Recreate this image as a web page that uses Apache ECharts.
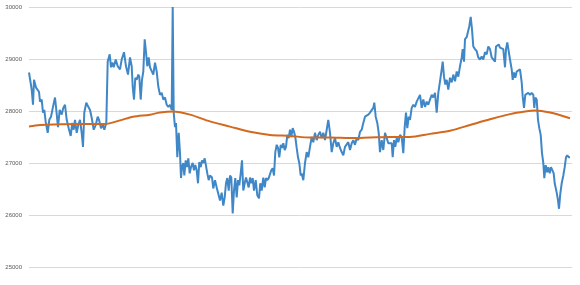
<!DOCTYPE html>
<html><head><meta charset="utf-8">
<script src="https://cdn.jsdelivr.net/npm/echarts@6/dist/echarts.min.js"></script>
<style>html,body{margin:0;padding:0;background:#fff}#c{width:580px;height:285px}</style>
</head><body><div id="c"></div>
<script>
// day index (trading-day position) and price values of the noisy series
const priceDays = [0,2.7,4,5,7,8.7,10,11,12.7,14,15.3,16.7,18.7,20.3,22,24,26,27.3,29,30.7,32.7,34.3,36,37.7,39.7,41.7,43.3,44.7,46,47.7,49.3,51,52.7,54,55.3,57.3,59.3,61,62.7,64.7,66.7,68.7,70,72,74,75.3,77.3,78.7,80.7,82,83.3,84.7,86.7,88.7,91,92.7,95,97,99,101,102.7,103.7,105,106.3,107.7,109.3,110.3,111.7,113,114.3,115.7,117,118.3,119.7,121,122.7,124.3,126,127.7,129.3,131,132.7,134.3,136,137.7,139.3,141,142.7,143.7,144.7,146,147,148.3,149.7,151,152,153,154.3,155.3,156.7,158,159.3,160.7,162,163.7,165,166.3,167.7,169,170.3,171.7,173,174.3,175.7,177,178.3,179.7,181,183,184.3,186,187.7,189.3,191,192.7,194.3,195.7,197,198.3,199.7,201,202.3,203.7,205,206.3,207.7,209,210.3,211.7,213,214.3,215.7,217,218.3,219.7,221,222.3,223.7,225,226.7,228.3,230,231.3,232.7,234.3,235.7,237,238.3,239.7,241,242.3,243.7,245,246.3,247.7,249,250.3,251.7,253,254.3,255.7,257,258.3,259.7,261,262.3,263.7,265,266.3,267.7,269,270.3,271.7,272.7,274.3,276,277.7,279.3,281,282.7,284.3,286,287.7,289.3,291,292.7,294.3,296,297.7,299.3,301,302.7,304.3,306,307.7,309.3,311,312.7,314.3,316,317.7,319.3,321,322.7,324.3,326,327.7,329.3,331,332.7,334.3,336,337.7,339.3,341,342.7,344.3,345.3,346.7,348.3,349.7,351,352.7,354.3,356,357.7,359.3,361,362.7,363.7,365,366.3,367.7,369.3,371,372.7,374.3,375.7,377,378.3,379.7,381,382.7,384.3,386,387.7,389.3,391,392.7,394.3,396,397.7,399.3,401,402.7,404.3,406,407.7,409.3,411,412.7,413.7,415,416.3,417.7,419.3,421,422.7,424.3,426,427.7,429.3,431,432.7,433.7,435,436,437.7,439.3,440.3,441.7,443,444.3,446,447.7,449.3,451,452.7,454.3,456,457.7,459.3,461,462.7,464.3,466,467,468.3,469.7,471,472.7,474.3,476,477,478.3,479.7,481,482.7,483.7,485,486.3,487.7,489.3,491,492.7,493.7,495,496.3,497.7,499.3,501,502.7,504.3,505.3,506.3,507.7,509,510.3,511.7,513,514.3,515.3,516.7,518,519.3,520.7,522,523.3,524.7,525.7,526.7,527.7,529,530,531.3,532.7,534.3,535.7,537,538.3,539.7,541];
const priceValues = [28740,28410,28120,28600,28450,28470,28370,28180,28220,27970,28020,27790,27580,27830,27890,28080,28260,28020,27690,28020,27930,28060,28120,27830,27670,27520,27770,27640,27830,27580,27730,27830,27580,27310,27970,28160,28080,28020,27870,27640,27730,27890,27830,27670,27730,27640,27770,28950,29090,28840,28930,28840,28990,28860,28800,28990,29130,28860,28700,29030,28860,28470,28220,28640,28600,28700,28660,28220,28600,28760,29380,29130,28860,29030,28840,28860,28700,28930,28760,28470,28310,28350,28220,28260,28120,28080,28120,28020,30000,27970,27690,27770,27110,27580,27190,26710,26920,27000,26760,27050,26920,27090,26800,26920,27000,26860,26960,26860,26610,27020,26920,27050,27000,27090,27090,26800,26670,26760,26720,26510,26670,26530,26410,26280,26430,26180,26340,26610,26710,26470,26760,26720,26030,26470,26710,26340,26670,26570,26800,27050,26470,26610,26720,26630,26530,26720,26610,26710,26470,26670,26380,26320,26610,26470,26720,26530,26710,26670,26710,26710,26860,26900,26760,27210,27350,27290,27110,27350,27290,27380,27250,27310,27540,27480,27640,27500,27670,27600,27500,27290,27110,27000,26760,26800,26670,27000,27210,27110,27310,27500,27400,27580,27440,27540,27600,27480,27580,27440,27640,27830,27580,27210,27380,27480,27310,27400,27290,27210,27150,27310,27290,27400,27250,27380,27440,27350,27480,27440,27600,27640,27770,27890,27870,27930,27970,27990,28060,28160,27890,27770,27580,27210,27440,27250,27580,27480,27380,27380,27380,27110,27440,27310,27480,27400,27540,27500,27190,27690,27970,27670,27890,27830,28060,28120,28080,28180,28160,28310,28060,28220,28080,28180,28120,28220,28310,28260,28350,27970,28350,28570,28800,28950,28660,28510,28600,28410,28640,28550,28700,28570,28760,28660,28860,29030,29190,28950,29380,29420,29440,29630,29810,29570,29240,29190,29150,29030,28990,29050,28990,29130,29090,29240,29190,29030,29050,28950,29240,29220,29280,29220,29240,29190,28840,29190,29320,29320,28990,28800,28600,28740,28640,28760,28740,28800,28550,28280,28060,28310,28280,28350,28310,28350,28310,28060,28260,28220,27830,27670,27540,27190,27000,26710,26960,26820,26920,26800,26920,26900,26800,26610,26630,26430,26280,26120,26410,26610,26760,26920,27110,27150,27110,27110];
// smooth trend series
const trendDays = [0,11,51,76,91,104,121,131,144,161,181,201,221,241,261,281,301,321,341,361,381,401,421,441,461,481,496,506,521,541];
const trendValues = [27700,27730,27750,27750,27820,27890,27930,27970,27990,27930,27800,27700,27600,27540,27520,27490,27490,27480,27490,27500,27500,27560,27620,27730,27840,27940,27990,28010,27970,27860];
const yTicks = [25000,26000,27000,28000,29000,30000];

const chart = echarts.init(document.getElementById('c'), null, {renderer:'canvas'});
chart.setOption({
  animation:false,
  grid:{left:29,right:8,top:7,bottom:18,containLabel:false},
  xAxis:{type:'value',min:0,max:543,show:true,axisLine:{show:false},axisTick:{show:false},axisLabel:{show:false},splitLine:{show:false}},
  yAxis:{type:'value',min:yTicks[0],max:yTicks[yTicks.length-1],interval:1000,
    axisLine:{show:false},axisTick:{show:false},
    axisLabel:{fontSize:6,color:'#595959',margin:7,fontFamily:'Liberation Sans, Arial, sans-serif',formatter:v=>String(v)},
    splitLine:{lineStyle:{color:'#d9d9d9',width:1}}},
  series:[
    {type:'line',data:priceDays.map((d,i)=>[d,priceValues[i]]),symbol:'none',lineStyle:{color:'#3F87C7',width:2},itemStyle:{color:'#3F87C7'}},
    {type:'line',data:trendDays.map((d,i)=>[d,trendValues[i]]),symbol:'none',smooth:0.3,lineStyle:{color:'#D2691E',width:2},itemStyle:{color:'#D2691E'}}
  ]
});
</script></body></html>
